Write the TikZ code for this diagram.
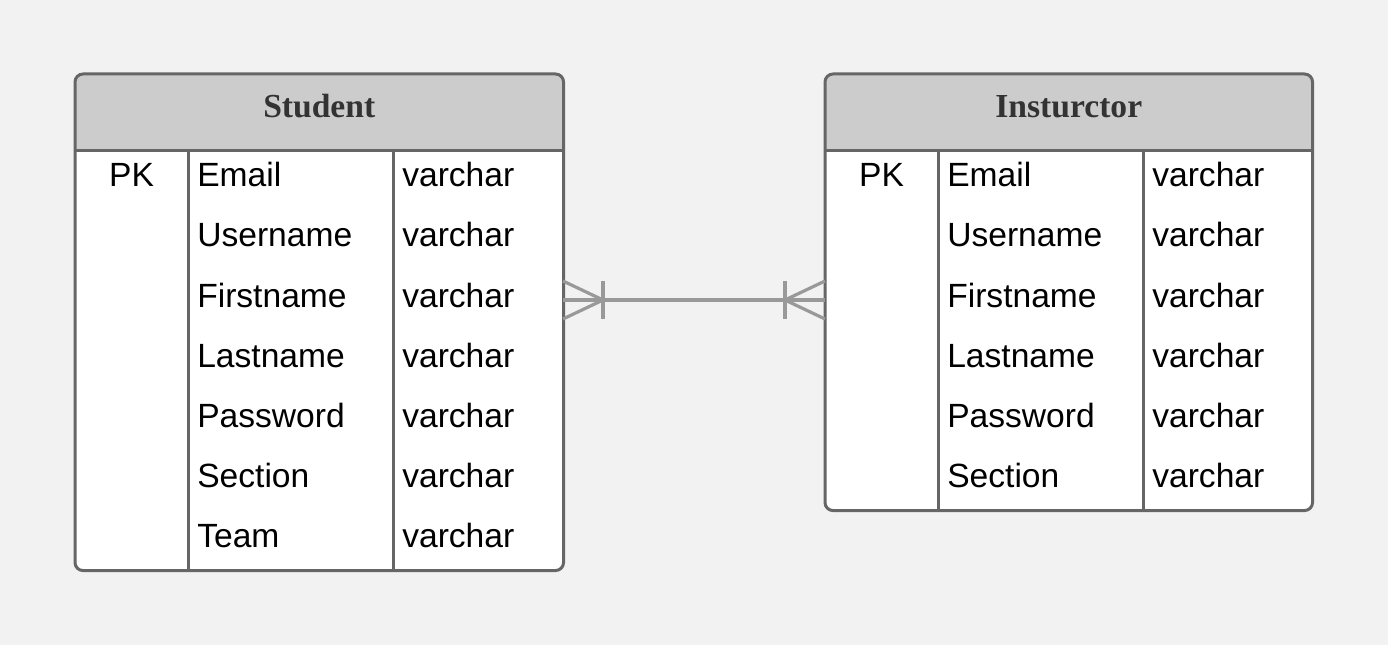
\documentclass[tikz,border=0pt]{standalone}
\usepackage{fontspec}
\setmainfont{Liberation Serif}
\setsansfont{Liberation Sans}
\usepackage{xcolor}
\usetikzlibrary{
	positioning,
	calc
}

\definecolor{bgcol}{HTML}{F2F2F2}
\definecolor{framecol}{HTML}{666666}
\definecolor{headcol}{HTML}{CCCCCC}
\definecolor{headtext}{HTML}{333333}
\definecolor{linkcol}{HTML}{999999}

\begin{document}
\begin{tikzpicture}[
		x=0.75pt, y=-0.75pt,
		tablebody/.style={fill=white, rounded corners=6pt, inner sep=0pt, anchor=north west},
		headbox/.style={fill=headcol, rounded corners=6pt, inner sep=0pt, anchor=north west,
			font=\fontsize{25.2pt}{30pt}\selectfont\bfseries, text=headtext,
			text height=0.8em, text depth=0em},
		field/.style={anchor=base west, inner sep=0pt, font=\fontsize{25.2pt}{30pt}\selectfont\sffamily},
		keyfield/.style={anchor=base, inner sep=0pt, font=\fontsize{25.2pt}{30pt}\selectfont\sffamily},
		frame/.style={draw=framecol, line width=2.25pt, rounded corners=6pt},
		divider/.style={framecol, line width=2.25pt},
		rel/.style={linkcol, line width=2.4pt}
	]
	
	% --- Sfondo ---
	\fill[bgcol] (0,0) rectangle (1388,645);
	\useasboundingbox (0,0) rectangle (1388,645);
	
	% --- Tabella Student ---
	\node[tablebody, minimum width=366pt, minimum height=372pt] (student) at (75,74) {};
	\node[headbox, minimum width=366pt, minimum height=57pt] (student-head) at (student.north west) {Student};
	\fill[headcol] ($(student-head.south west)+(0,-12)$) rectangle (student-head.south east);
	\draw[divider] (student-head.south west) -- (student-head.south east);
	\draw[divider] (188,150) -- (188,570);
	\draw[divider] (393,150) -- (393,570);
	\draw[frame] (student.north west) rectangle (student.south east);
	
	\node[keyfield] (st-pk) at (131.5,187) {PK};
	\foreach \fname [count=\i] in {Email, Username, Firstname, Lastname, Password, Section, Team} {
		\node[field] (st-name-\i) at (197,127+60*\i) {\fname};
		\node[field] (st-type-\i) at (402,127+60*\i) {varchar};
	}
	
	% --- Tabella Insturctor ---
	\node[tablebody, minimum width=365.25pt, minimum height=327pt] (insturctor) at (825,74) {};
	\node[headbox, minimum width=365.25pt, minimum height=57pt] (insturctor-head) at (insturctor.north west) {Insturctor};
	\fill[headcol] ($(insturctor-head.south west)+(0,-12)$) rectangle (insturctor-head.south east);
	\draw[divider] (insturctor-head.south west) -- (insturctor-head.south east);
	\draw[divider] (938,150) -- (938,510);
	\draw[divider] (1143,150) -- (1143,510);
	\draw[frame] (insturctor.north west) rectangle (insturctor.south east);
	
	\node[keyfield] (in-pk) at (881.5,187) {PK};
	\foreach \fname [count=\i] in {Email, Username, Firstname, Lastname, Password, Section} {
		\node[field] (in-name-\i) at (947,127+60*\i) {\fname};
		\node[field] (in-type-\i) at (1152,127+60*\i) {varchar};
	}
	
	% --- Relazione (molti a molti) ---
	\coordinate (st-link) at (563,300);
	\coordinate (in-link) at (825,300);
	\draw[rel] (st-link) -- (in-link);
	% zampa di gallina lato Student
	\draw[rel] ($(st-link)+(0,-19)$) -- ($(st-link)+(40,0)$) -- ($(st-link)+(0,19)$);
	\draw[rel] ($(st-link)+(40,-19)$) -- ($(st-link)+(40,19)$);
	% zampa di gallina lato Insturctor
	\draw[rel] ($(in-link)+(0,-19)$) -- ($(in-link)+(-40,0)$) -- ($(in-link)+(0,19)$);
	\draw[rel] ($(in-link)+(-40,-19)$) -- ($(in-link)+(-40,19)$);
	
\end{tikzpicture}
\end{document}
